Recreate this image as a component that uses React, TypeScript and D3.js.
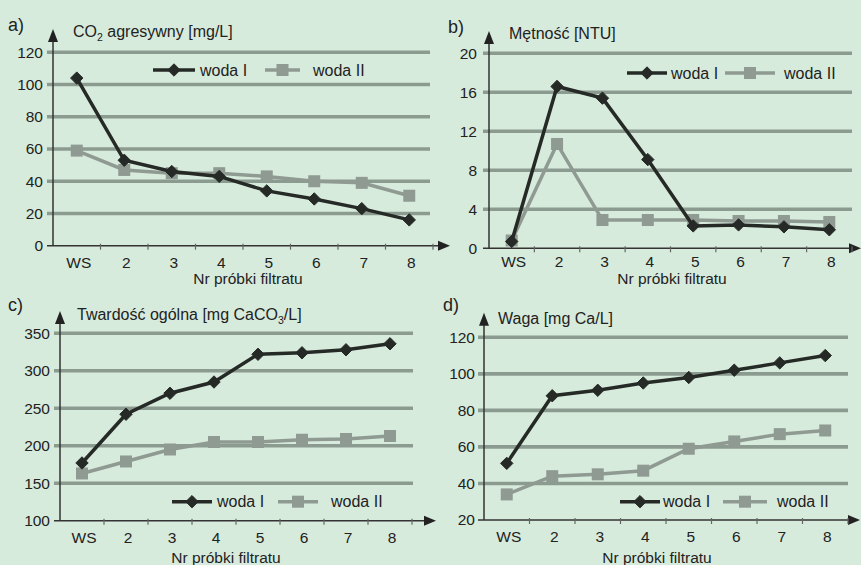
import React, { useEffect, useRef } from "react";
import * as d3 from "d3";

const categories = ["WS", "2", "3", "4", "5", "6", "7", "8"];

const co2WodaI = [104, 53, 46, 43, 34, 29, 23, 16];
const co2WodaII = [59, 47, 45, 45, 43, 40, 39, 31];
const co2Ticks = [0, 20, 40, 60, 80, 100, 120];

const turbWodaI = [0.7, 16.6, 15.4, 9.1, 2.3, 2.4, 2.2, 1.9];
const turbWodaII = [0.8, 10.7, 2.9, 2.9, 2.9, 2.8, 2.8, 2.7];
const turbTicks = [0, 4, 8, 12, 16, 20];

const hardWodaI = [177, 242, 270, 285, 322, 324, 328, 336];
const hardWodaII = [163, 179, 195, 205, 205, 208, 209, 213];
const hardTicks = [100, 150, 200, 250, 300, 350];

const caWodaI = [51, 88, 91, 95, 98, 102, 106, 110];
const caWodaII = [34, 44, 45, 47, 59, 63, 67, 69];
const caTicks = [20, 40, 60, 80, 100, 120];

const FONT = "'Liberation Sans', Arial, Helvetica, sans-serif";
const BG = "#d7ebdc";
const GRID = "#8c9b90";
const DARK = "#262a27";
const GREY = "#8f9a92";

const panels = [
  {
    letter: "a)", title: ["CO", "2", " agresywny [mg/L]"],
    s1: co2WodaI, s2: co2WodaII, ticks: co2Ticks,
    x0: 53, x1: 433, yBottom: 245.7, yTop: 52.3, gridEnd: 430, arrowTipX: 450, arrowTopY: 29,
    tickLabelX: 43, letterPos: [8, 31], titlePos: [73, 37], xlabPos: [248, 284], xtickY: 268,
    legend: { y: 70, l1: [153, 195], t1: 200, l2: [265, 300], t2: 313 },
  },
  {
    letter: "b)", title: ["Mętność [NTU]"],
    s1: turbWodaI, s2: turbWodaII, ticks: turbTicks,
    x0: 489, x1: 852, yBottom: 248.3, yTop: 53.3, gridEnd: 852, arrowTipX: 861, arrowTopY: 31,
    tickLabelX: 477, letterPos: [448, 33], titlePos: [509, 39], xlabPos: [672, 284], xtickY: 267,
    legend: { y: 73, l1: [627, 667], t1: 671, l2: [725, 775], t2: 784 },
  },
  {
    letter: "c)", title: ["Twardość ogólna [mg CaCO", "3", "/L]"],
    s1: hardWodaI, s2: hardWodaII, ticks: hardTicks,
    x0: 60, x1: 412, yBottom: 520.7, yTop: 333.3, gridEnd: 413, arrowTipX: 436, arrowTopY: 311,
    tickLabelX: 50, letterPos: [8, 311], titlePos: [77, 320], xlabPos: [226, 562.5], xtickY: 543,
    legend: { y: 501.7, l1: [172, 212], t1: 217, l2: [278, 318], t2: 331 },
  },
  {
    letter: "d)", title: ["Waga [mg Ca/L]"],
    s1: caWodaI, s2: caWodaII, ticks: caTicks,
    x0: 484, x1: 848, yBottom: 520, yTop: 337.3, gridEnd: 848, arrowTipX: 860, arrowTopY: 312.7,
    tickLabelX: 475, letterPos: [443, 311], titlePos: [498, 324], xlabPos: [657, 562.5], xtickY: 542,
    legend: { y: 501.7, l1: [620, 660], t1: 663, l2: [723, 767], t2: 777 },
  },
];

function drawDiamond(g, x, y) {
  const r = 6.2;
  g.append("path")
    .attr("d", `M${x},${y - r}L${x + r},${y}L${x},${y + r}L${x - r},${y}Z`)
    .attr("fill", DARK)
    .attr("stroke", DARK).attr("stroke-width", 1).attr("stroke-linejoin", "round");
}

function drawSquare(g, x, y) {
  g.append("rect")
    .attr("x", x - 6).attr("y", y - 6)
    .attr("width", 12).attr("height", 12)
    .attr("fill", GREY);
}

function drawPanel(svg, p) {
  const g = svg.append("g");
  const ext = d3.extent(p.ticks);

  const x = d3.scaleBand().domain(categories).range([p.x0, p.x1]);
  const y = d3.scaleLinear().domain(ext).range([p.yBottom, p.yTop]);
  const cx = (c) => x(c) + x.bandwidth() / 2;

  // gridlines
  g.selectAll(".grid")
    .data(p.ticks.filter((t) => t !== ext[0]))
    .enter()
    .append("line")
    .attr("x1", p.x0 - 6).attr("x2", p.gridEnd)
    .attr("y1", (d) => y(d)).attr("y2", (d) => y(d))
    .attr("stroke", GRID).attr("stroke-width", 3.6);

  // tick labels y
  g.selectAll(".ytl")
    .data(p.ticks)
    .enter()
    .append("text")
    .attr("x", p.tickLabelX).attr("y", (d) => y(d))
    .attr("dy", "0.35em")
    .attr("text-anchor", "end")
    .attr("font-size", 15.5).attr("fill", "#222")
    .text((d) => d);

  // x axis
  g.append("line")
    .attr("x1", p.x0 - 6).attr("x2", p.arrowTipX - 10)
    .attr("y1", p.yBottom).attr("y2", p.yBottom)
    .attr("stroke", "#333").attr("stroke-width", 1.5);
  g.append("path")
    .attr("d", `M${p.arrowTipX},${p.yBottom}L${p.arrowTipX - 12},${p.yBottom - 5}L${p.arrowTipX - 12},${p.yBottom + 5}Z`)
    .attr("fill", "#222");

  // x ticks between categories
  const bounds = categories.slice(1).map((c) => x(c)).concat([p.x1]);
  g.selectAll(".xt")
    .data(bounds)
    .enter()
    .append("line")
    .attr("x1", (d) => d).attr("x2", (d) => d)
    .attr("y1", p.yBottom - 2).attr("y2", p.yBottom + 4)
    .attr("stroke", "#666").attr("stroke-width", 1.2);

  g.selectAll(".xtl")
    .data(categories)
    .enter()
    .append("text")
    .attr("x", (d) => cx(d) + 2).attr("y", p.xtickY)
    .attr("text-anchor", "middle")
    .attr("font-size", 15.5).attr("fill", "#222")
    .text((d) => d);

  // y axis
  g.append("line")
    .attr("x1", p.x0).attr("x2", p.x0)
    .attr("y1", p.arrowTopY + 10).attr("y2", p.yBottom)
    .attr("stroke", "#333").attr("stroke-width", 1.5);
  g.append("path")
    .attr("d", `M${p.x0},${p.arrowTopY}L${p.x0 - 5},${p.arrowTopY + 13}L${p.x0 + 5},${p.arrowTopY + 13}Z`)
    .attr("fill", "#222");

  // series
  const line = d3.line().x((d, i) => cx(categories[i])).y((d) => y(d));
  g.append("path").datum(p.s2).attr("d", line)
    .attr("fill", "none").attr("stroke", GREY).attr("stroke-width", 3.5);
  p.s2.forEach((v, i) => drawSquare(g, cx(categories[i]), y(v)));
  g.append("path").datum(p.s1).attr("d", line)
    .attr("fill", "none").attr("stroke", DARK).attr("stroke-width", 3.5);
  p.s1.forEach((v, i) => drawDiamond(g, cx(categories[i]), y(v)));

  // legend
  const L = p.legend;
  g.append("line").attr("x1", L.l1[0]).attr("x2", L.l1[1]).attr("y1", L.y).attr("y2", L.y)
    .attr("stroke", DARK).attr("stroke-width", 3.5);
  drawDiamond(g, (L.l1[0] + L.l1[1]) / 2, L.y);
  g.append("text").attr("x", L.t1).attr("y", L.y + 5.5)
    .attr("font-size", 16).attr("fill", "#222").text("woda I");
  g.append("line").attr("x1", L.l2[0]).attr("x2", L.l2[1]).attr("y1", L.y).attr("y2", L.y)
    .attr("stroke", GREY).attr("stroke-width", 3.5);
  drawSquare(g, (L.l2[0] + L.l2[1]) / 2, L.y);
  g.append("text").attr("x", L.t2).attr("y", L.y + 5.5)
    .attr("font-size", 16).attr("fill", "#222").text("woda II");

  // letter
  g.append("text").attr("x", p.letterPos[0]).attr("y", p.letterPos[1])
    .attr("font-size", 18).attr("fill", "#222").text(p.letter);

  // y title (middle part is a subscript)
  const t = g.append("text").attr("x", p.titlePos[0]).attr("y", p.titlePos[1])
    .attr("font-size", 16).attr("fill", "#222");
  p.title.forEach((part, i) => {
    const ts = t.append("tspan").text(part);
    if (p.title.length > 1 && i === 1) ts.attr("font-size", 10.5).attr("dy", 4);
    if (p.title.length > 1 && i === 2) ts.attr("dy", -4);
  });

  // x title
  g.append("text").attr("x", p.xlabPos[0]).attr("y", p.xlabPos[1])
    .attr("text-anchor", "middle")
    .attr("font-size", 15.5).attr("fill", "#222")
    .text("Nr próbki filtratu");
}

export default function App() {
  const ref = useRef(null);

  useEffect(() => {
    const svg = d3.select(ref.current);
    svg.selectAll("*").remove();
    svg.append("rect").attr("width", 861).attr("height", 565).attr("fill", BG);
    const root = svg.append("g").attr("font-family", FONT);
    panels.forEach((p) => drawPanel(root, p));
  }, []);

  return (
    <svg
      ref={ref}
      width={861}
      height={565}
      style={{ position: "absolute", left: 0, top: 0, display: "block" }}
    />
  );
}
